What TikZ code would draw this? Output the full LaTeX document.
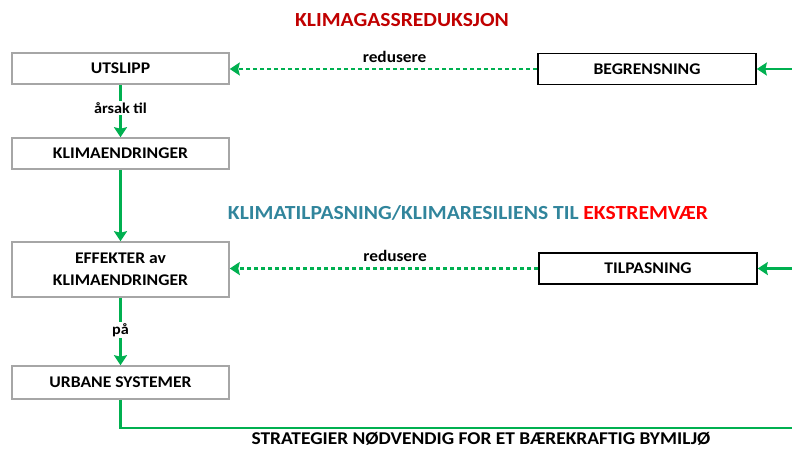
\documentclass[tikz,border=0pt]{standalone}
\usepackage{fontspec}
\setmainfont[FakeStretch=1.08]{Carlito}
\usetikzlibrary{arrows.meta}
\definecolor{arrowgreen}{HTML}{00B050}
\definecolor{darkred}{HTML}{C00000}
\definecolor{tealblue}{HTML}{31859C}
\definecolor{brightred}{HTML}{FF0000}
\begin{document}
\begin{tikzpicture}[x=1pt,y=-1pt,
        every node/.style={font=\bfseries\fontsize{16.3}{21.5}\selectfont},
        graybox/.style={draw=black!35,line width=1.6pt,minimum width=217pt,minimum height=31pt,inner sep=0pt,align=center},
        blackbox/.style={draw=black,line width=1.6pt,minimum width=218pt,minimum height=31pt,inner sep=0pt},
        flow/.style={draw=arrowgreen,line width=2.5pt,-{Stealth[length=10pt,width=13pt,inset=1.5pt]}},
        reduce/.style={flow,dash pattern=on 4pt off 3pt},
        small/.style={font=\bfseries\fontsize{15}{17}\selectfont,fill=white,inner sep=1.5pt},
        heading/.style={font=\bfseries\fontsize{20}{24}\selectfont}]
        \useasboundingbox (0,0) rectangle (792,448);
        % titles
        \node[heading,text=darkred] (titleA) at (402,20) {KLIMAGASSREDUKSJON};
        \node[heading,text=tealblue] (titleB) at (468,213)
            {KLIMATILPASNING/KLIMARESILIENS TIL \textcolor{brightred}{EKSTREMVÆR}};
        % left column
        \node[graybox] (utslipp) at (120.5,68.5) {UTSLIPP};
        \node[graybox] (klima) at (120.5,153.5) {KLIMAENDRINGER};
        \node[graybox,minimum height=55pt] (effekter) at (120.5,269.5) {EFFEKTER av\\KLIMAENDRINGER};
        \node[graybox,minimum height=33pt] (urbane) at (120.5,382.5) {URBANE SYSTEMER};
        % right column
        \node[blackbox] (begrensning) at (647,69) {BEGRENSNING};
        \node[blackbox] (tilpasning) at (648,268.5) {TILPASNING};
        \coordinate (inA) at (792,69);
        \coordinate (inB) at (792,268.5);
        \coordinate (corner) at (120.5,428);
        \coordinate (outR) at (792,428);
        % connectors
        \draw[flow] (utslipp) -- node[small,pos=0.45]{årsak til} (klima);
        \draw[flow] (klima) -- (effekter);
        \draw[flow] (effekter) -- node[small,pos=0.48]{på} (urbane);
        \draw[reduce] (begrensning) -- node[small,pos=0.464,above=4pt,fill=none,font=\bfseries\fontsize{16}{18}\selectfont]{redusere} (utslipp.east|-begrensning);
        \draw[reduce] (tilpasning) -- node[small,pos=0.464,above=4pt,fill=none,font=\bfseries\fontsize{16}{18}\selectfont]{redusere} (effekter.east|-tilpasning);
        \draw[flow] (inA) -- (begrensning);
        \draw[flow] (inB) -- (tilpasning);
        \draw[draw=arrowgreen,line width=2.5pt] (urbane) -- (corner) -- (outR);
        \node[anchor=base,font=\bfseries\fontsize{18}{22}\selectfont] (strategi) at (481,444.5)
            {STRATEGIER NØDVENDIG FOR ET BÆREKRAFTIG BYMILJØ};
\end{tikzpicture}
\end{document}
